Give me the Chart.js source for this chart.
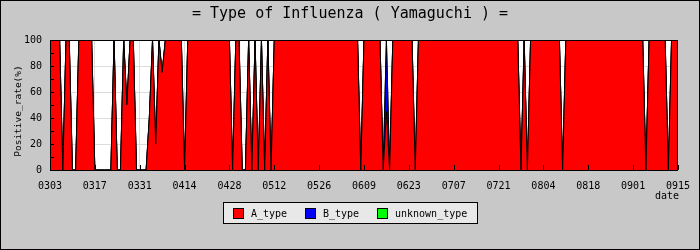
<!DOCTYPE html>
<html>
<head>
<meta charset="utf-8">
<script src="https://cdn.jsdelivr.net/npm/chart.js@4.4.1/dist/chart.umd.min.js"></script>
<style>
  html, body { margin: 0; padding: 0; background: #c8c8c8; }
  #wrap { width: 700px; height: 250px; }
</style>
</head>
<body>
<div id="wrap"><canvas id="myChart" width="700" height="250"></canvas></div>
<script>
// one point per day, 0303 .. 0915
const startDate = Date.UTC(2020, 2, 3);
const dayCount = 197;
const days = [];
for (let i = 0; i < dayCount; i++) {
  const d = new Date(startDate + i * 86400000);
  days.push(String(d.getUTCMonth() + 1).padStart(2, '0') + String(d.getUTCDate()).padStart(2, '0'));
}

// positive rate (%) per day
const aType = [
  100, 100, 100, 100, 0, 100, 100, 0, 0, 100, 100, 100, 100, 100,
  0, 0, 0, 0, 0, 0, 100, 0, 0, 100, 50, 100, 100, 0,
  0, 0, 0, 40, 100, 20, 100, 75, 100, 100, 100, 100, 100, 100,
  0, 100, 100, 100, 100, 100, 100, 100, 100, 100, 100, 100, 100, 100,
  100, 0, 100, 100, 0, 0, 100, 0, 100, 0, 100, 0, 100, 0,
  100, 100, 100, 100, 100, 100, 100, 100, 100, 100, 100, 100, 100, 100,
  100, 100, 100, 100, 100, 100, 100, 100, 100, 100, 100, 100, 100, 0,
  100, 100, 100, 100, 100, 100, 0, 45, 0, 100, 100, 100, 100, 100,
  100, 100, 0, 100, 100, 100, 100, 100, 100, 100, 100, 100, 100, 100,
  100, 100, 100, 100, 100, 100, 100, 100, 100, 100, 100, 100, 100, 100,
  100, 100, 100, 100, 100, 100, 100, 0, 100, 0, 100, 100, 100, 100,
  100, 100, 100, 100, 100, 100, 0, 100, 100, 100, 100, 100, 100, 100,
  100, 100, 100, 100, 100, 100, 100, 100, 100, 100, 100, 100, 100, 100,
  100, 100, 100, 100, 0, 100, 100, 100, 100, 100, 100, 0, 100, 100,
  100
];
const bType = [
  0, 0, 0, 0, 0, 0, 0, 0, 0, 0, 0, 0, 0, 0,
  0, 0, 0, 0, 0, 0, 0, 0, 0, 0, 0, 0, 0, 0,
  0, 0, 0, 0, 0, 0, 0, 0, 0, 0, 0, 0, 0, 0,
  0, 0, 0, 0, 0, 0, 0, 0, 0, 0, 0, 0, 0, 0,
  0, 0, 0, 0, 0, 0, 0, 0, 0, 0, 0, 0, 0, 0,
  0, 0, 0, 0, 0, 0, 0, 0, 0, 0, 0, 0, 0, 0,
  0, 0, 0, 0, 0, 0, 0, 0, 0, 0, 0, 0, 0, 0,
  0, 0, 0, 0, 0, 0, 0, 55, 0, 0, 0, 0, 0, 0,
  0, 0, 0, 0, 0, 0, 0, 0, 0, 0, 0, 0, 0, 0,
  0, 0, 0, 0, 0, 0, 0, 0, 0, 0, 0, 0, 0, 0,
  0, 0, 0, 0, 0, 0, 0, 0, 0, 0, 0, 0, 0, 0,
  0, 0, 0, 0, 0, 0, 0, 0, 0, 0, 0, 0, 0, 0,
  0, 0, 0, 0, 0, 0, 0, 0, 0, 0, 0, 0, 0, 0,
  0, 0, 0, 0, 0, 0, 0, 0, 0, 0, 0, 0, 0, 0,
  0
];
const unknownType = [
  0, 0, 0, 0, 0, 0, 0, 0, 0, 0, 0, 0, 0, 0,
  0, 0, 0, 0, 0, 0, 0, 0, 0, 0, 0, 0, 0, 0,
  0, 0, 0, 0, 0, 0, 0, 0, 0, 0, 0, 0, 0, 0,
  0, 0, 0, 0, 0, 0, 0, 0, 0, 0, 0, 0, 0, 0,
  0, 0, 0, 0, 0, 0, 0, 0, 0, 0, 0, 0, 0, 0,
  0, 0, 0, 0, 0, 0, 0, 0, 0, 0, 0, 0, 0, 0,
  0, 0, 0, 0, 0, 0, 0, 0, 0, 0, 0, 0, 0, 0,
  0, 0, 0, 0, 0, 0, 0, 0, 0, 0, 0, 0, 0, 0,
  0, 0, 0, 0, 0, 0, 0, 0, 0, 0, 0, 0, 0, 0,
  0, 0, 0, 0, 0, 0, 0, 0, 0, 0, 0, 0, 0, 0,
  0, 0, 0, 0, 0, 0, 0, 0, 0, 0, 0, 0, 0, 0,
  0, 0, 0, 0, 0, 0, 0, 0, 0, 0, 0, 0, 0, 0,
  0, 0, 0, 0, 0, 0, 0, 0, 0, 0, 0, 0, 0, 0,
  0, 0, 0, 0, 0, 0, 0, 0, 0, 0, 0, 0, 0, 0,
  0
];
const seriesNames = ['A_type', 'B_type', 'unknown_type'];
const seriesColors = ['#ff0000', '#0000ff', '#00ff00'];
const tickEvery = 14; // 2 weeks between date labels

const MONO = '"DejaVu Sans Mono", "Liberation Mono", monospace';

// background, inner tick marks, titles and legend box
const decor = {
  id: 'decor',
  beforeDraw(chart) {
    const { ctx, chartArea: a } = chart;
    ctx.save();
    ctx.fillStyle = '#c8c8c8';
    ctx.fillRect(0, 0, chart.width, chart.height);
    ctx.fillStyle = '#ffffff';
    ctx.fillRect(a.left, a.top, a.right - a.left, a.bottom - a.top);
    ctx.restore();
  },
  afterDatasetsDraw(chart) {
    const { ctx, chartArea: a, scales } = chart;
    ctx.save();
    ctx.strokeStyle = '#000';
    ctx.lineWidth = 1;
    ctx.beginPath();
    for (let i = 0; i < days.length; i += tickEvery) {
      const x = Math.round(scales.x.getPixelForValue(i)) + 0.5;
      ctx.moveTo(x, a.bottom);
      ctx.lineTo(x, a.bottom - 5);
    }
    for (let v = 10; v < 100; v += 10) {
      const y = Math.round(scales.y.getPixelForValue(v)) + 0.5;
      ctx.moveTo(a.left, y);
      ctx.lineTo(a.left + 4, y);
    }
    ctx.stroke();
    ctx.strokeRect(a.left + 0.5, a.top + 0.5, a.right - a.left - 1, a.bottom - a.top);
    ctx.restore();
  },
  afterDraw(chart) {
    const { ctx } = chart;
    ctx.save();
    ctx.fillStyle = '#000';
    ctx.textBaseline = 'middle';

    ctx.font = '15px ' + MONO;
    ctx.textAlign = 'center';
    ctx.fillText('= Type of Influenza ( Yamaguchi ) =', 350, 14);

    ctx.font = '10px ' + MONO;
    ctx.textAlign = 'right';
    ctx.fillText('date', 679, 196);

    ctx.save();
    ctx.translate(19, 111);
    ctx.rotate(-Math.PI / 2);
    ctx.textAlign = 'center';
    ctx.font = '9.5px ' + MONO;
    ctx.fillText('Positive_rate(%)', 0, 0);
    ctx.restore();

    // legend
    ctx.fillStyle = '#e8e8e8';
    ctx.fillRect(223.5, 202.5, 254, 21);
    ctx.strokeStyle = '#000';
    ctx.strokeRect(223.5, 202.5, 254, 21);
    const itemX = [233, 305, 377];
    ctx.font = '10px ' + MONO;
    ctx.textAlign = 'left';
    chart.data.datasets.forEach((ds, i) => {
      ctx.fillStyle = ds.backgroundColor;
      ctx.fillRect(itemX[i] + 0.5, 208.5, 10, 10);
      ctx.strokeRect(itemX[i] + 0.5, 208.5, 10, 10);
      ctx.fillStyle = '#000';
      ctx.fillText(ds.label, itemX[i] + 18, 214);
    });

    ctx.strokeStyle = '#000';
    ctx.strokeRect(0.5, 0.5, chart.width - 1, chart.height - 1);
    ctx.restore();
  }
};

const seriesData = [aType, bType, unknownType];

const chart = new Chart(document.getElementById('myChart'), {
  type: 'line',
  data: {
    labels: days,
    datasets: seriesData.map((values, i) => ({
      label: seriesNames[i],
      data: values,
      backgroundColor: seriesColors[i],
      borderColor: '#000000',
      borderWidth: 1,
      pointRadius: 0,
      tension: 0,
      fill: i === 0 ? 'origin' : '-1',
    })),
  },
  options: {
    responsive: false,
    animation: false,
    layout: { padding: { top: 40, right: 20, left: 0, bottom: 0 } },
    plugins: {
      legend: { display: false },
      title: { display: false },
      tooltip: { enabled: false },
    },
    scales: {
      x: {
        type: 'category',
        offset: false,
        afterFit: (scale) => { scale.height = 80; },
        grid: { color: '#dcdcdc', drawTicks: false },
        border: { display: false },
        ticks: {
          autoSkip: false,
          maxRotation: 0,
          minRotation: 0,
          padding: 10,
          color: '#000',
          font: { family: MONO, size: 10 },
          callback: function (value, index) {
            return index % tickEvery === 0 ? days[index] : null;
          },
        },
      },
      y: {
        stacked: true,
        min: 0,
        max: 100,
        afterFit: (scale) => { scale.width = 50; },
        grid: { color: '#dcdcdc', drawTicks: false },
        border: { display: false },
        ticks: {
          stepSize: 20,
          padding: 8,
          color: '#000',
          font: { family: MONO, size: 10 },
        },
      },
    },
  },
  plugins: [decor],
});
</script>
</body>
</html>
